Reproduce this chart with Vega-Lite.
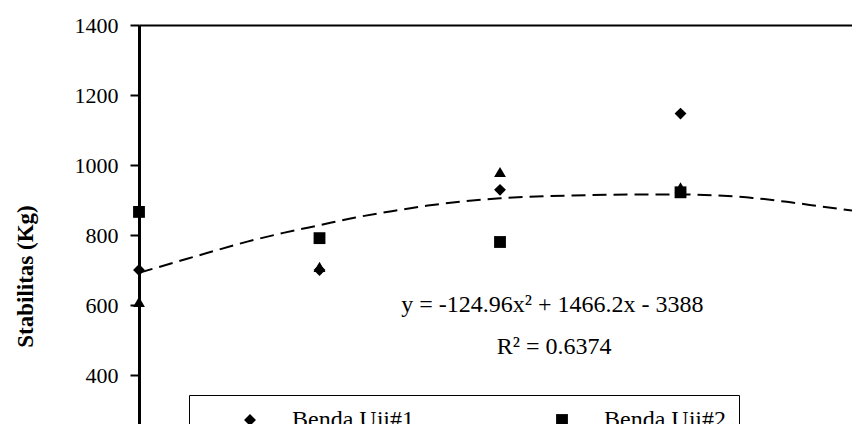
{
  "$schema": "https://vega.github.io/schema/vega-lite/v6.json",
  "width": 713,
  "height": 399,
  "autosize": {"type": "none"},
  "padding": {"left": 139, "top": 25, "right": 0, "bottom": 0},
  "background": "white",
  "config": {"view": {"stroke": null}, "font": "Liberation Serif"},
  "datasets": {
    "points": [
      {"kadar": 4.5, "stabilitas": 700, "series": "Benda Uji#1"},
      {"kadar": 5.0, "stabilitas": 700, "series": "Benda Uji#1"},
      {"kadar": 5.5, "stabilitas": 929, "series": "Benda Uji#1"},
      {"kadar": 6.0, "stabilitas": 1147, "series": "Benda Uji#1"},
      {"kadar": 4.5, "stabilitas": 866, "series": "Benda Uji#2"},
      {"kadar": 5.0, "stabilitas": 791, "series": "Benda Uji#2"},
      {"kadar": 5.5, "stabilitas": 780, "series": "Benda Uji#2"},
      {"kadar": 6.0, "stabilitas": 922, "series": "Benda Uji#2"},
      {"kadar": 4.5, "stabilitas": 609, "series": "Benda Uji#3"},
      {"kadar": 5.0, "stabilitas": 709, "series": "Benda Uji#3"},
      {"kadar": 5.5, "stabilitas": 980, "series": "Benda Uji#3"},
      {"kadar": 6.0, "stabilitas": 936, "series": "Benda Uji#3"}
    ],
    "trend": [
      {"kadar": 4.5, "stabilitas": 692},
      {"kadar": 4.6, "stabilitas": 722},
      {"kadar": 4.7, "stabilitas": 752},
      {"kadar": 4.8, "stabilitas": 781},
      {"kadar": 4.9, "stabilitas": 806},
      {"kadar": 5.0, "stabilitas": 828},
      {"kadar": 5.1, "stabilitas": 850},
      {"kadar": 5.2, "stabilitas": 868},
      {"kadar": 5.3, "stabilitas": 884},
      {"kadar": 5.4, "stabilitas": 896},
      {"kadar": 5.5, "stabilitas": 905},
      {"kadar": 5.6, "stabilitas": 910},
      {"kadar": 5.7, "stabilitas": 913},
      {"kadar": 5.8, "stabilitas": 915},
      {"kadar": 5.9, "stabilitas": 916},
      {"kadar": 6.0, "stabilitas": 916},
      {"kadar": 6.1, "stabilitas": 913},
      {"kadar": 6.2, "stabilitas": 906},
      {"kadar": 6.3, "stabilitas": 894},
      {"kadar": 6.4, "stabilitas": 880},
      {"kadar": 6.475, "stabilitas": 870}
    ],
    "notes": [
      {"kadar": 5.645, "stabilitas": 580, "label": "y = -124.96x² + 1466.2x - 3388"},
      {"kadar": 5.65, "stabilitas": 460, "label": "R² = 0.6374"}
    ]
  },
  "layer": [
    {
      "data": {"name": "trend"},
      "mark": {"type": "line", "color": "black", "strokeWidth": 2, "strokeDash": [14, 7], "interpolate": "monotone", "clip": true},
      "encoding": {
        "x": {
          "field": "kadar", "type": "quantitative",
          "scale": {"domain": [4.5, 6.475], "nice": false, "zero": false},
          "axis": {"orient": "top", "title": null, "labels": false, "ticks": false, "grid": false, "domain": true, "domainColor": "black", "domainWidth": 2}
        },
        "y": {
          "field": "stabilitas", "type": "quantitative",
          "scale": {"domain": [260, 1400], "nice": false, "zero": false},
          "axis": {
            "title": "Stabilitas (Kg)",
            "values": [400, 600, 800, 1000, 1200, 1400],
            "format": "d",
            "grid": false,
            "domainColor": "black", "domainWidth": 3,
            "tickColor": "black", "tickWidth": 2, "tickSize": 9,
            "labelFont": "Liberation Serif", "labelFontSize": 22, "labelColor": "black", "labelPadding": 12,
            "titleFont": "Liberation Serif", "titleFontSize": 23, "titleFontWeight": "bold", "titleColor": "black",
            "titleX": -114, "titleY": 251, "titleAngle": -90, "titleAlign": "center", "titleBaseline": "middle"
          }
        }
      }
    },
    {
      "data": {"name": "points"},
      "mark": {"type": "point", "filled": true, "opacity": 1, "color": "black", "size": 140},
      "encoding": {
        "x": {"field": "kadar", "type": "quantitative"},
        "y": {"field": "stabilitas", "type": "quantitative"},
        "shape": {
          "field": "series", "type": "nominal",
          "scale": {"domain": ["Benda Uji#1", "Benda Uji#2", "Benda Uji#3"], "range": ["diamond", "square", "triangle-up"]},
          "legend": {
            "title": null, "orient": "none", "direction": "horizontal", "columns": 2,
            "legendX": 50, "legendY": 370,
            "strokeColor": "black", "fillColor": "white", "padding": 13,
            "symbolSize": 140, "symbolFillColor": "black", "symbolStrokeColor": "black", "symbolStrokeWidth": 0, "symbolOffset": 36,
            "labelFont": "Liberation Serif", "labelFontSize": 24, "labelColor": "black", "labelOffset": 30, "labelLimit": 400,
            "columnPadding": 100, "rowPadding": 10,
            "encode": {"legend": {"update": {"strokeWidth": {"value": 2}}}}
          }
        }
      }
    },
    {
      "data": {"name": "notes"},
      "mark": {"type": "text", "font": "Liberation Serif", "fontSize": 24, "color": "black", "align": "center", "baseline": "alphabetic"},
      "encoding": {
        "x": {"field": "kadar", "type": "quantitative"},
        "y": {"field": "stabilitas", "type": "quantitative"},
        "text": {"field": "label"}
      }
    }
  ]
}
